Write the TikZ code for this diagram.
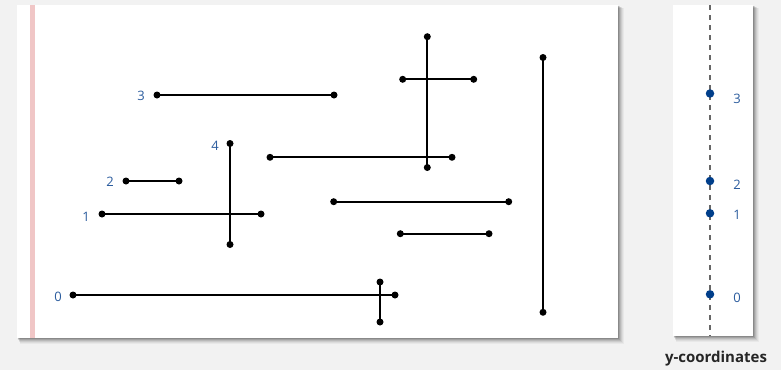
\documentclass[tikz,border=0pt]{standalone}
\usepackage{fontspec}
\setmainfont{Open Sans}
\begin{document}
\begin{tikzpicture}[x=1pt,y=-1pt,
  dot/.style={circle,fill=black,inner sep=0pt,minimum size=7pt},
  bdot/.style={circle,fill=ptblue,inner sep=0pt,minimum size=8.5pt},
  seg/.style={line width=1.9pt},
  lab/.style={text=labblue,font=\fontsize{13}{14}\selectfont,inner sep=0pt},
  panel/.style={fill=white}]
\definecolor{bg}{HTML}{F2F2F2}
\definecolor{labblue}{HTML}{2B5C9E}
\definecolor{ptblue}{HTML}{003E8A}
\definecolor{pink}{HTML}{F0C6C6}
\useasboundingbox (0,0) rectangle (781,370);
\fill[bg] (0,0) rectangle (781,370);
% shadows
\foreach \o/\a in {6/0.04,5/0.05,4/0.07,3/0.09,2/0.12,1/0.15}{
  \fill[black,opacity=\a] (17+\o*0.5,5+\o*0.5) rectangle (618+\o,338+\o);
  \fill[black,opacity=\a] (673+\o*0.5,5+\o*0.5) rectangle (753+\o,336+\o);
}
% panels
\fill[panel] (17,5) rectangle (618,338);
\fill[pink] (30,5) rectangle (35,338);
\fill[panel] (673,5) rectangle (753,336);
% segments
\node[dot] (h3a) at (157,95) {};
\node[dot] (h3b) at (334,95) {};
\node[dot] (h2a) at (126,181) {};
\node[dot] (h2b) at (179,181) {};
\node[dot] (h1a) at (102,214) {};
\node[dot] (h1b) at (261,214) {};
\node[dot] (v4a) at (230,143.5) {};
\node[dot] (v4b) at (230,244.5) {};
\node[dot] (h0a) at (73,295) {};
\node[dot] (h0b) at (395,295) {};
\node[dot] (vaa) at (380,282) {};
\node[dot] (vab) at (380,322) {};
\node[dot] (hba) at (270,157.3) {};
\node[dot] (hbb) at (452,157.3) {};
\node[dot] (vca) at (427.3,36.7) {};
\node[dot] (vcb) at (427.3,167.5) {};
\node[dot] (hda) at (402.7,79.3) {};
\node[dot] (hdb) at (473.7,79.3) {};
\node[dot] (hea) at (333.7,201.7) {};
\node[dot] (heb) at (508.7,201.7) {};
\node[dot] (hfa) at (400.3,233.7) {};
\node[dot] (hfb) at (489,233.7) {};
\node[dot] (vga) at (543,57.5) {};
\node[dot] (vgb) at (543,312.3) {};
\foreach \a/\b in {h3a/h3b,h2a/h2b,h1a/h1b,v4a/v4b,h0a/h0b,vaa/vab,hba/hbb,vca/vcb,hda/hdb,hea/heb,hfa/hfb,vga/vgb}
  \draw[seg] (\a.center) -- (\b.center);
% labels
\node[lab] (l3) at (141,96) {3};
\node[lab] (l2) at (110,182) {2};
\node[lab] (l1) at (86,217) {1};
\node[lab] (l4) at (215,146) {4};
\node[lab] (l0) at (58,296.5) {0};
% right panel
\coordinate (dtop) at (710,5);
\coordinate (dbot) at (710,336);
\draw[gray!80!black,line width=1.3pt,dash pattern=on 5pt off 5pt] (dtop) -- (dbot);
\node[bdot] (p3) at (710,93.5) {};
\node[bdot] (p2) at (710,181) {};
\node[bdot] (p1) at (710,213.3) {};
\node[bdot] (p0) at (710,294.3) {};
\node[lab] (r3) at (737,98.5) {3};
\node[lab] (r2) at (737,185) {2};
\node[lab] (r1) at (737,214.5) {1};
\node[lab] (r0) at (737,297.5) {0};
\node[font=\bfseries\fontsize{15}{17}\selectfont,text=black!85,inner sep=0pt] (cap) at (716,359) {y-coordinates};
\end{tikzpicture}
\end{document}
